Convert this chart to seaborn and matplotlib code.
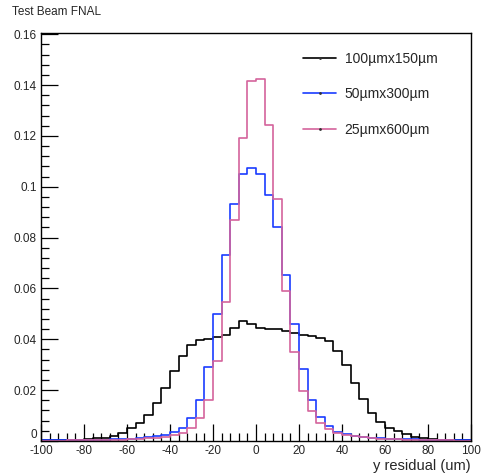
import numpy as np
import pandas as pd
import matplotlib
matplotlib.use("Agg")
import matplotlib.pyplot as plt
from matplotlib.lines import Line2D
from matplotlib.ticker import MultipleLocator
import seaborn as sns

# ---- data (fraction of entries per 4 um bin, -100..100) ----
bin_edges = list(range(-100, 101, 4))
labels = ["100\u00b5mx150\u00b5m", "50\u00b5mx300\u00b5m", "25\u00b5mx600\u00b5m"]

black_vals = [0.0002, 0.0002, 0.0003, 0.0004, 0.0005, 0.0007, 0.0010, 0.0013, 0.0018, 0.0030,
              0.0050, 0.0072, 0.0102, 0.0148, 0.0207, 0.0276, 0.0333, 0.0376, 0.0396, 0.0403,
              0.0409, 0.0418, 0.0444, 0.0471, 0.0462, 0.0446, 0.0440, 0.0439, 0.0432, 0.0425,
              0.0418, 0.0413, 0.0407, 0.0393, 0.0354, 0.0298, 0.0229, 0.0165, 0.0109, 0.0076,
              0.0052, 0.0039, 0.0026, 0.0017, 0.0011, 0.0007, 0.0005, 0.0003, 0.0002, 0.0002]

blue_vals = [0.0002, 0.0002, 0.0002, 0.0003, 0.0003, 0.0004, 0.0004, 0.0005, 0.0006, 0.0007,
             0.0009, 0.0011, 0.0014, 0.0018, 0.0024, 0.0037, 0.0052, 0.0091, 0.0163, 0.0291,
             0.0501, 0.0730, 0.0932, 0.1050, 0.1072, 0.1050, 0.0967, 0.0840, 0.0654, 0.0459,
             0.0285, 0.0163, 0.0093, 0.0059, 0.0037, 0.0027, 0.0020, 0.0016, 0.0013, 0.0011,
             0.0009, 0.0008, 0.0007, 0.0006, 0.0005, 0.0004, 0.0003, 0.0003, 0.0002, 0.0002]

pink_vals = [0.0001, 0.0001, 0.0001, 0.0002, 0.0002, 0.0002, 0.0003, 0.0003, 0.0004, 0.0005,
             0.0006, 0.0008, 0.0011, 0.0013, 0.0017, 0.0024, 0.0033, 0.0052, 0.0089, 0.0163,
             0.0314, 0.0546, 0.0869, 0.1193, 0.1418, 0.1426, 0.1242, 0.0952, 0.0592, 0.0350,
             0.0197, 0.0119, 0.0069, 0.0047, 0.0030, 0.0024, 0.0018, 0.0014, 0.0011, 0.0009,
             0.0007, 0.0006, 0.0005, 0.0004, 0.0003, 0.0003, 0.0002, 0.0002, 0.0001, 0.0001]

colors = ["#000000", "#1a3cff", "#d4649c"]

# ---- build long table ----
centers = (np.array(bin_edges[:-1]) + np.array(bin_edges[1:])) / 2.0
series = [black_vals, blue_vals, pink_vals]
df = pd.concat([pd.DataFrame({"x": centers, "w": vals, "s": lab})
                for vals, lab in zip(series, labels)], ignore_index=True)

sns.set_style("ticks")
plt.rcParams["font.family"] = ["Liberation Sans", "DejaVu Sans"]

fig = plt.figure(figsize=(4.89, 4.75), dpi=100)
ax = fig.add_axes([41 / 489, 1 - 441 / 475, 430 / 489, 408 / 475])

for lab, col in zip(labels, colors):
    sub = df[df["s"] == lab]
    sns.histplot(data=sub, x="x", weights="w", bins=bin_edges, element="step",
                 fill=False, color=col, linewidth=1.2, ax=ax)

ax.set_xlim(-100, 100)
ax.set_ylim(0, 0.1605)
ax.set_ylabel("")
ax.set_xlabel("")

ax.xaxis.set_major_locator(MultipleLocator(20))
ax.xaxis.set_minor_locator(MultipleLocator(4))
ax.yaxis.set_major_locator(MultipleLocator(0.02))
ax.yaxis.set_minor_locator(MultipleLocator(0.004))
ax.set_yticks(np.arange(0, 0.161, 0.02))
ax.set_yticklabels(["0", "0.02", "0.04", "0.06", "0.08", "0.1", "0.12", "0.14", "0.16"])
ax.set_xticks(np.arange(-100, 101, 20))
ax.set_xticklabels([str(v) for v in range(-100, 101, 20)])

ax.tick_params(axis="both", which="both", direction="in", top=False, right=False,
               labelsize=8.5, width=0.9, color="black")
ax.tick_params(axis="both", which="major", length=12, pad=3)
ax.tick_params(axis="both", which="minor", length=6)
# nudge the y "0" label up a little, as in the reference
ylab0 = ax.get_yticklabels()[0]
ylab0.set_va("bottom")
for sp in ax.spines.values():
    sp.set_visible(True)
    sp.set_linewidth(1.0)
    sp.set_color("black")

fig.text(471 / 489, 1 - 466 / 475, "y residual (um)", ha="right", va="center", fontsize=10.5)
fig.text(12 / 489, 1 - 12 / 475, "Test Beam FNAL", ha="left", va="center", fontsize=8.5)

handles = [Line2D([0], [0], color=c, lw=1.2, marker=".", markersize=2,
                  markerfacecolor="#333333", markeredgecolor="#333333") for c in colors]
leg = ax.legend(handles, labels, loc="upper left", bbox_to_anchor=(0.58, 0.985),
                frameon=False, fontsize=10, handlelength=2.4, handletextpad=0.6,
                labelspacing=1.55)

fig.savefig("out.png", dpi=100)
